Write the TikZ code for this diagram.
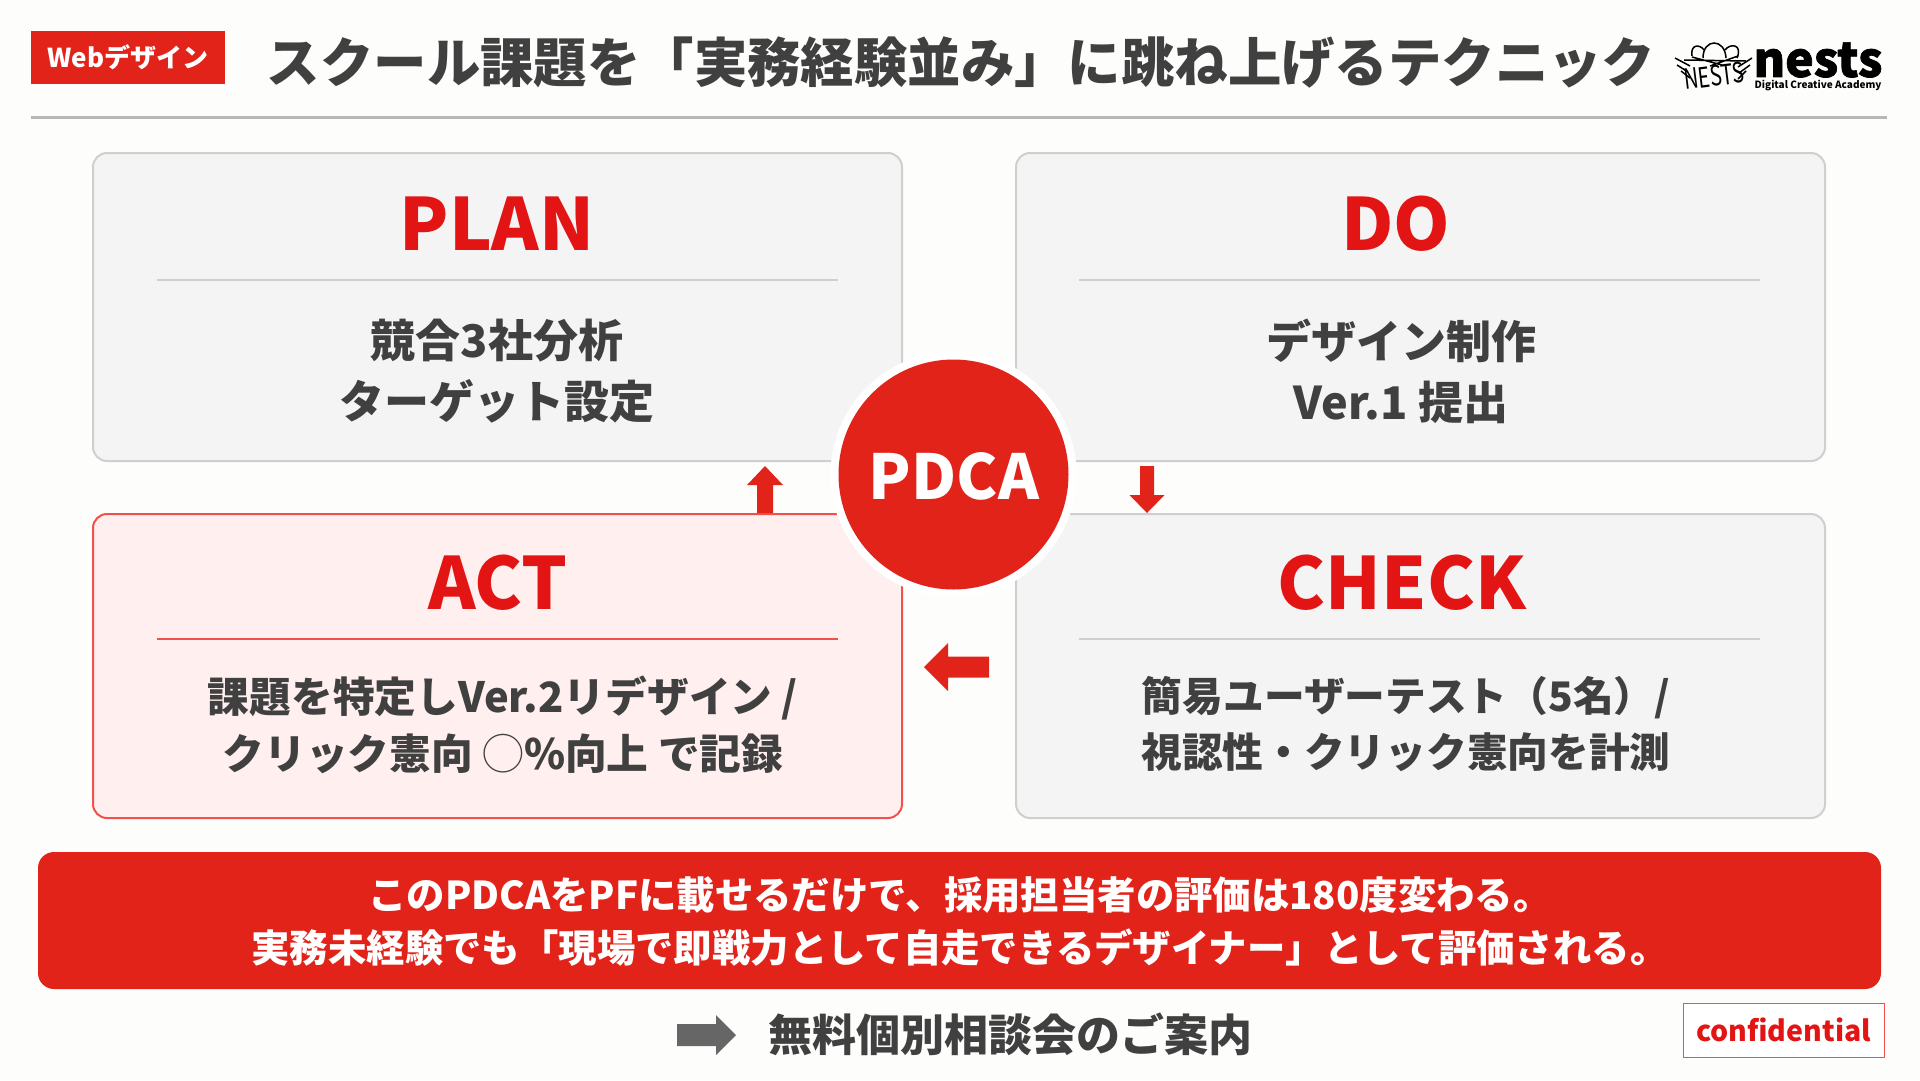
\documentclass[tikz,border=0pt]{standalone}
\usepackage{fontspec}
\usepackage{graphicx}
\setmainfont{Noto Sans CJK JP}
\definecolor{pagecol}{HTML}{FDFDFC}
\definecolor{redcol}{HTML}{E2231A}
\definecolor{headcol}{HTML}{E31414}
\definecolor{inkcol}{HTML}{404040}
\definecolor{cardcol}{HTML}{F4F4F5}
\definecolor{linecol}{HTML}{CFCFCF}
\definecolor{actcol}{HTML}{FFF0EF}
\definecolor{actline}{HTML}{F2504A}
\newcommand{\fs}[2]{\fontsize{#1}{#2}\selectfont\bfseries}
\begin{document}
\begin{tikzpicture}[x=1pt, y=-1pt,
  card/.style={draw=linecol,line width=2pt,fill=cardcol,rounded corners=14pt,minimum width=809pt,inner sep=0pt},
  actcard/.style={card,draw=actline,fill=actcol},
  heading/.style={text=headcol,font=\fs{72}{72},inner sep=0pt},
  body/.style={text=inkcol,font=\fs{45}{61},align=center,inner sep=0pt},
  smallbody/.style={body,font=\fs{41}{57}},
  rulel/.style={draw=linecol,line width=2pt},
]
\useasboundingbox (0,0) rectangle (1920,1080);
\fill [pagecol] (0,0) rectangle (1920,1080);
% header
\node [fill=redcol,text=white,minimum width=194pt,minimum height=53pt,inner sep=0pt,font=\fs{26}{26}](badge) at (128,57.5) {Webデザイン};
\node [text=inkcol,inner sep=0pt,font=\fs{53.4}{54}](title) at (961,62) {スクール課題を「実務経験並み」に跳ね上げるテクニック};
\draw [draw=black!28,line width=3pt] (31,117) -- (1887,117);
% logo
\node [inner sep=0pt,font=\fs{48}{48}\addfontfeature{FakeBold=1.5}](nests) at (1818,60) {nests};
\node [inner sep=0pt,font=\fs{10}{11}](academy) at (1818,85.5) {Digital Creative Academy};
\begin{scope}[line width=1.5pt,black]
\draw (1703,58) .. controls (1703,38) and (1725,38) .. (1726,58);
\draw (1692,56) .. controls (1690,44) and (1700,44) .. (1704,50);
\draw (1725,50) .. controls (1730,43) and (1743,44) .. (1737,58);
\draw (1675,58) -- (1690,66) (1677,65) -- (1688,72) (1681,71) -- (1690,78) (1752,58) -- (1738,67) (1750,65) -- (1739,73) (1746,71) -- (1738,79);
\draw (1684,60) -- (1746,61) (1692,57) -- (1722,65) (1738,56) -- (1710,66);
\end{scope}
\node [inner sep=0pt,rotate=7,font=\fontsize{20}{20}\selectfont](nesticon) at (1714,76) {\scalebox{1}[1.4]{NESTS}};
% cards
\node [card,minimum height=308pt](plan) at (497.5,307) {};
\node [card,minimum height=308pt](do) at (1420.5,307) {};
\node [actcard,minimum height=304pt](act) at (497.5,666) {};
\node [card,minimum height=304pt](check) at (1420.5,666) {};
\node [heading](plantext) at (497,224) {PLAN};
\node [heading](dotext) at (1396,224) {DO};
\node [heading](acttext) at (498,583) {ACT};
\node [heading](checktext) at (1402,583) {CHECK};
\draw [rulel] (157,280) -- (838,280);
\draw [rulel] (1079,280) -- (1760,280);
\draw [rulel,draw=actline] (157,639) -- (838,639);
\draw [rulel] (1079,639) -- (1760,639);
\node [body](planbody) at (497,371) {競合3社分析\\ターゲット設定};
\node [body](dobody) at (1401,371) {デザイン制作\\Ver.1 提出};
\node [smallbody,font=\fs{41.7}{57}](actbody) at (503,725) {課題を特定しVer.2リデザイン /\\クリック憲向 {\mdseries ◯}\%向上 で記録};
\node [smallbody,font=\fs{40.7}{57}](checkbody) at (1406,724) {簡易ユーザーテスト（5名）/\\[-1pt]視認性・クリック憲向を計測};
% centre
\node [circle,fill=white,minimum size=246pt,inner sep=0pt](ring) at (953.5,474.5) {};
\node [circle,fill=redcol,minimum size=230pt,inner sep=0pt](pdca) at (953.5,474.5) {};
\node [text=white,inner sep=0pt,font=\fs{62}{62}](pdcatext) at (954,476) {PDCA};
% arrows
\fill [redcol] (765,466) -- (783,485) -- (773,485) -- (773,513) -- (757,513) -- (757,485) -- (747,485) -- cycle;
\fill [redcol] (1147,513) -- (1164.5,495) -- (1154,495) -- (1154,466) -- (1140,466) -- (1140,495) -- (1129.5,495) -- cycle;
\fill [redcol] (924,667) -- (948,643) -- (948,656.5) -- (989,656.5) -- (989,677.5) -- (948,677.5) -- (948,691) -- cycle;
% banner
\node [fill=redcol,rounded corners=16pt,minimum width=1843pt,minimum height=137pt,inner sep=0pt](banner) at (959.5,920.5) {};
\node [text=white,font=\fs{38.4}{53},align=center,inner sep=0pt](bannertext) at (960,922) {このPDCAをPFに載せるだけで、採用担当者の評価は180度変わる。\\実務未経験でも「現場で即戦力として自走できるデザイナー」として評価される。};
% footer
\fill [black!60] (736,1035) -- (716,1015) -- (716,1024) -- (677,1024) -- (677,1046) -- (716,1046) -- (716,1055) -- cycle;
\node [text=inkcol,inner sep=0pt,font=\fs{44}{44}](nexttext) at (1010,1034) {無料個別相談会のご案内};
\node [draw=actline,line width=1pt,fill=white,text=headcol,minimum width=201pt,minimum height=54pt,inner sep=0pt,font=\fs{28.5}{29}](confidential) at (1783.5,1030) {confidential};
\end{tikzpicture}
\end{document}
